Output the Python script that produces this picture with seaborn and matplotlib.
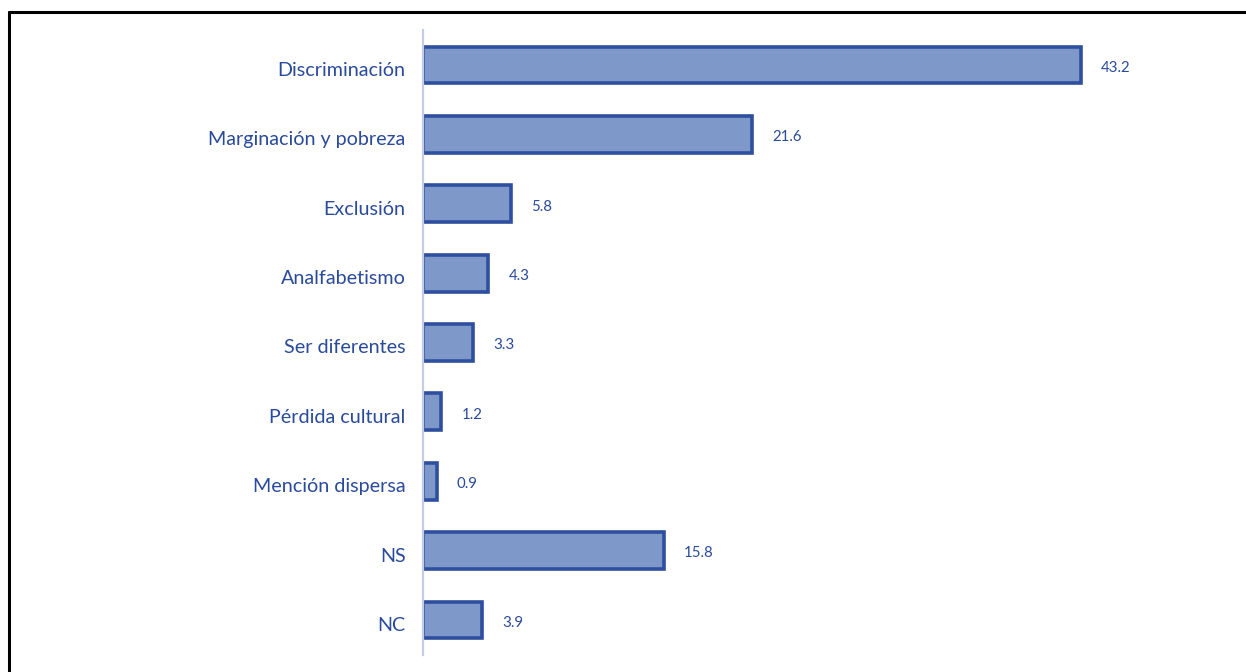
import matplotlib
matplotlib.use("Agg")
import matplotlib.pyplot as plt
from matplotlib.lines import Line2D
from matplotlib.transforms import ScaledTranslation
import seaborn as sns
import pandas as pd

categories = [
    "Discriminación",
    "Marginación y pobreza",
    "Exclusión",
    "Analfabetismo",
    "Ser diferentes",
    "Pérdida cultural",
    "Mención dispersa",
    "NS",
    "NC",
]
values = [43.2, 21.6, 5.8, 4.3, 3.3, 1.2, 0.9, 15.8, 3.9]
value_labels = ["43.2", "21.6", "5.8", "4.3", "3.3", "1.2", "0.9", "15.8", "3.9"]

df = pd.DataFrame({"categoria": categories, "porcentaje": values})

sns.set_theme(style="white")
plt.rcParams["font.family"] = ["Lato", "DejaVu Sans"]

W, H = 1246, 672
fig = plt.figure(figsize=(W / 100, H / 100), dpi=100)
left, right = 423, 1200
top, bottom = 30.3, 654.7
ax = fig.add_axes([left / W, 1 - bottom / H, (right - left) / W, (bottom - top) / H])

fill = "#7d98c9"
edge = "#2e4f9e"
text_col = "#2a4a9b"

sns.barplot(data=df, x="porcentaje", y="categoria", orient="h", ax=ax,
            color=fill, saturation=1, width=0.53,
            edgecolor=edge, linewidth=2.6)

ax.set_xlim(0, (right - left) / 15.23)
ax.set_ylim(8.5, -0.5)
ax.set_xlabel("")
ax.set_ylabel("")
ax.set_xticks([])
for side in ["top", "right", "bottom"]:
    ax.spines[side].set_visible(False)
ax.spines["left"].set_color("#c5cfe3")
ax.spines["left"].set_linewidth(1.6)
ax.tick_params(axis="y", length=0, pad=12.5, labelsize=14.2, labelcolor=text_col)

shift = ScaledTranslation(0, -4 / 100, fig.dpi_scale_trans)
for lbl in ax.get_yticklabels():
    lbl.set_transform(lbl.get_transform() + shift)

for i, (v, lab) in enumerate(zip(values, value_labels)):
    ax.annotate(lab, xy=(v, i), xytext=(14.5, -2), textcoords="offset points",
                ha="left", va="center", fontsize=10.8, color=text_col)

# page frame around the chart
fig.add_artist(Line2D([8.5 / W, 1.0], [1 - 11.5 / H, 1 - 11.5 / H],
                      transform=fig.transFigure, color="black", linewidth=2.2))
fig.add_artist(Line2D([8.5 / W, 8.5 / W], [0, 1 - 11.5 / H],
                      transform=fig.transFigure, color="black", linewidth=2.2))

fig.savefig("out.png", dpi=100)
